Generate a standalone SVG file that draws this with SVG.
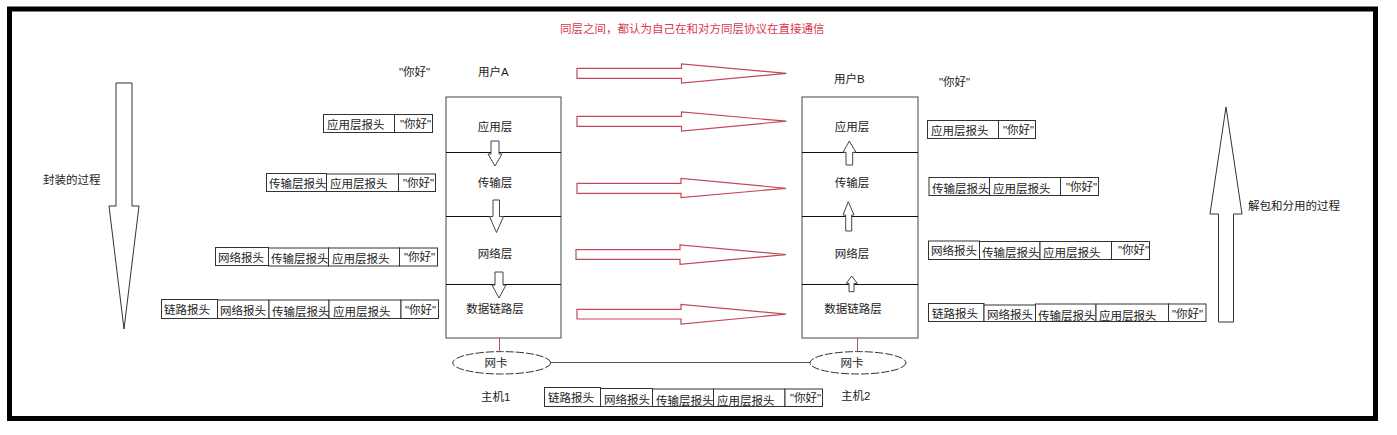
<svg xmlns="http://www.w3.org/2000/svg" width="1397" height="435" viewBox="0 0 1397 435">
<style>
.t{font-family:"Liberation Sans","Noto Sans CJK SC",sans-serif;font-size:11.5px;fill:#222}
.c{text-anchor:middle;dominant-baseline:central}
.l{dominant-baseline:central}
.lb{fill:#fff;stroke:#333;stroke-width:1}
.box{fill:#fff;stroke:#444;stroke-width:1}
.div{stroke:#111;stroke-width:1}
.ra{fill:#fff;stroke:#c24a58;stroke-width:1.2}
.sa{fill:#fff;stroke:#444;stroke-width:1}
.big{fill:#fff;stroke:#333;stroke-width:1}
</style>
<rect x="0" y="0" width="1397" height="435" fill="#fff"/>
<rect x="9.5" y="9" width="1366" height="409.5" fill="none" stroke="#000" stroke-width="5"/>

<text class="t" x="560" y="29" style="fill:#d8394f;dominant-baseline:central">同层之间，都认为自己在和对方同层协议在直接通信</text>

<g id="encap-arrow">
<polygon class="big" points="116,83 132,83 132,206 139,206 124,329 109,206 116,206"/>
<text class="t l" x="43" y="180">封装的过程</text>
</g>
<g id="decap-arrow">
<polygon class="big" points="1226,107 1242,214 1233.5,214 1233.5,322 1218.5,322 1218.5,214 1210,214"/>
<text class="t l" x="1248" y="206">解包和分用的过程</text>
</g>

<g id="hostA">
<rect class="box" x="446" y="97" width="115" height="241"/>
<line class="div" x1="446" y1="152.5" x2="561" y2="152.5"/>
<line class="div" x1="446" y1="216.5" x2="561" y2="216.5"/>
<line class="div" x1="446" y1="284.5" x2="561" y2="284.5"/>
<text class="t c" x="495" y="127">应用层</text>
<text class="t c" x="495" y="183">传输层</text>
<text class="t c" x="495" y="254">网络层</text>
<text class="t c" x="495" y="309">数据链路层</text>
<text class="t l" x="399" y="72">"你好"</text>
<text class="t l" x="478" y="72">用户A</text>
<text class="t l" x="481" y="397">主机1</text>
</g>

<g id="hostB">
<rect class="box" x="802" y="97" width="116" height="241"/>
<line class="div" x1="802" y1="152.5" x2="918" y2="152.5"/>
<line class="div" x1="802" y1="216.5" x2="918" y2="216.5"/>
<line class="div" x1="802" y1="284.5" x2="918" y2="284.5"/>
<text class="t c" x="852" y="127">应用层</text>
<text class="t c" x="852" y="183">传输层</text>
<text class="t c" x="852" y="254">网络层</text>
<text class="t c" x="853" y="309">数据链路层</text>
<text class="t l" x="834" y="79">用户B</text>
<text class="t l" x="939" y="82">"你好"</text>
<text class="t l" x="841" y="396">主机2</text>
</g>

<g id="nicA">
<ellipse cx="501.7" cy="362.8" rx="49" ry="11.2" fill="#fff" stroke="#333" stroke-width="1" stroke-dasharray="8 2"/>
<text class="t c" x="496" y="362.5">网卡</text>
</g>
<g id="nicB">
<ellipse cx="858" cy="362.8" rx="48" ry="11.2" fill="#fff" stroke="#333" stroke-width="1" stroke-dasharray="8 2"/>
<text class="t c" x="852" y="362.5">网卡</text>
</g>

<g id="labelsA">
<rect class="lb" x="323.5" y="114.5" width="71" height="18"/>
<rect class="lb" x="394.5" y="114.5" width="38" height="18"/>
<text class="t l" x="327" y="125">应用层报头</text>
<text class="t l" x="400" y="124">"你好"</text>

<rect class="lb" x="266.5" y="173.5" width="60" height="18"/>
<rect class="lb" x="326.5" y="174" width="72" height="17.5"/>
<rect class="lb" x="398.5" y="174" width="37" height="17.5"/>
<text class="t l" x="269" y="184">传输层报头</text>
<text class="t l" x="330" y="184">应用层报头</text>
<text class="t l" x="403" y="183">"你好"</text>

<rect class="lb" x="215.5" y="247.5" width="53" height="18"/>
<rect class="lb" x="268.5" y="248" width="60" height="18"/>
<rect class="lb" x="328.5" y="248" width="71" height="18"/>
<rect class="lb" x="399.5" y="248" width="38" height="18"/>
<text class="t l" x="218" y="258">网络报头</text>
<text class="t l" x="271" y="259">传输层报头</text>
<text class="t l" x="332" y="259">应用层报头</text>
<text class="t l" x="404" y="257">"你好"</text>

<rect class="lb" x="161.5" y="299.5" width="56" height="19"/>
<rect class="lb" x="217.5" y="300" width="51.5" height="18.5"/>
<rect class="lb" x="269" y="300" width="60" height="18.5"/>
<rect class="lb" x="329" y="300" width="72" height="18.5"/>
<rect class="lb" x="401" y="300" width="37.5" height="18.5"/>
<text class="t l" x="164" y="310">链路报头</text>
<text class="t l" x="220" y="311">网络报头</text>
<text class="t l" x="272" y="312">传输层报头</text>
<text class="t l" x="333" y="312">应用层报头</text>
<text class="t l" x="405" y="310">"你好"</text>
</g>

<g id="labelsB">
<rect class="lb" x="927.5" y="120.5" width="71" height="18"/>
<rect class="lb" x="998.5" y="120.5" width="37" height="18"/>
<text class="t l" x="931" y="131">应用层报头</text>
<text class="t l" x="1003" y="130">"你好"</text>

<rect class="lb" x="929" y="177.5" width="60.5" height="18"/>
<rect class="lb" x="989.5" y="177.5" width="71" height="18"/>
<rect class="lb" x="1060.5" y="177.5" width="38" height="18"/>
<text class="t l" x="932" y="189">传输层报头</text>
<text class="t l" x="993" y="189">应用层报头</text>
<text class="t l" x="1066" y="187">"你好"</text>

<rect class="lb" x="928.5" y="241" width="51" height="18.5"/>
<rect class="lb" x="979.5" y="241.5" width="60.5" height="18"/>
<rect class="lb" x="1040" y="241.5" width="71.5" height="18"/>
<rect class="lb" x="1111.5" y="241.5" width="38" height="18"/>
<text class="t l" x="931" y="251">网络报头</text>
<text class="t l" x="982" y="253">传输层报头</text>
<text class="t l" x="1043" y="253">应用层报头</text>
<text class="t l" x="1118" y="250">"你好"</text>

<rect class="lb" x="928.5" y="303.5" width="55.5" height="18"/>
<rect class="lb" x="984" y="305" width="51.5" height="16.5"/>
<rect class="lb" x="1035.5" y="304" width="60.5" height="17.5"/>
<rect class="lb" x="1096" y="304" width="72.5" height="17.5"/>
<rect class="lb" x="1168.5" y="304" width="37.5" height="17.5"/>
<text class="t l" x="932" y="314">链路报头</text>
<text class="t l" x="987" y="315">网络报头</text>
<text class="t l" x="1038" y="316">传输层报头</text>
<text class="t l" x="1099" y="316">应用层报头</text>
<text class="t l" x="1172" y="314">"你好"</text>
</g>

<g id="labelsWire">
<rect class="lb" x="544.5" y="387.5" width="56" height="19"/>
<rect class="lb" x="600.5" y="388.5" width="52" height="18"/>
<rect class="lb" x="652.5" y="389" width="61" height="17.5"/>
<rect class="lb" x="713.5" y="389" width="71.5" height="17.5"/>
<rect class="lb" x="785" y="389" width="37.5" height="17.5"/>
<text class="t l" x="548" y="398">链路报头</text>
<text class="t l" x="604" y="400">网络报头</text>
<text class="t l" x="656" y="401">传输层报头</text>
<text class="t l" x="717" y="401">应用层报头</text>
<text class="t l" x="790" y="398">"你好"</text>
</g>

<g id="connectors">
<path class="ra" d="M577,68.3 H681.5 V64 L786.5,73.3 L681.5,83 V78.3 H577 Z"/>
<path class="ra" d="M577,116.3 H681.5 V112 L786.5,121.2 L681.5,131 V126.3 H577 Z"/>
<path class="ra" d="M577,183.3 H681 V178.3 L786,188.3 L681,197.7 V193.3 H577 Z"/>
<path class="ra" d="M576,249.7 H680 V245 L786,254.6 L680,264.3 V259.3 H576 Z"/>
<path class="ra" d="M577,309.3 H681 V304.3 L786,314.2 L681,324 V319 H577 Z"/>

<path class="sa" d="M491,141 H499 V154 H502 L495,166 L488,154 H491 Z"/>
<path class="sa" d="M493,200 H499.5 V216.5 H503.5 L496.5,232.5 L489.5,216.5 H493 Z"/>
<path class="sa" d="M495,272 H503 V285 H506 L499,298 L492,285 H495 Z"/>

<path class="sa" d="M849.3,141 L856,152.3 H852.7 V165 H846 V152.3 H843 Z"/>
<path class="sa" d="M848.3,201.7 L854,215 H851.7 V231 H845.7 V215 H843 Z"/>
<path class="sa" d="M851.7,276 L857.3,283.3 H854 V291.7 H849 V283.3 H846.3 Z"/>

<line x1="499.5" y1="338" x2="499.5" y2="351.6" stroke="#c24a58" stroke-width="1"/>
<line x1="857.5" y1="338" x2="857.5" y2="351.6" stroke="#c24a58" stroke-width="1"/>
<line x1="550.7" y1="362.5" x2="810" y2="362.5" stroke="#555" stroke-width="1"/>
</g>
</svg>
